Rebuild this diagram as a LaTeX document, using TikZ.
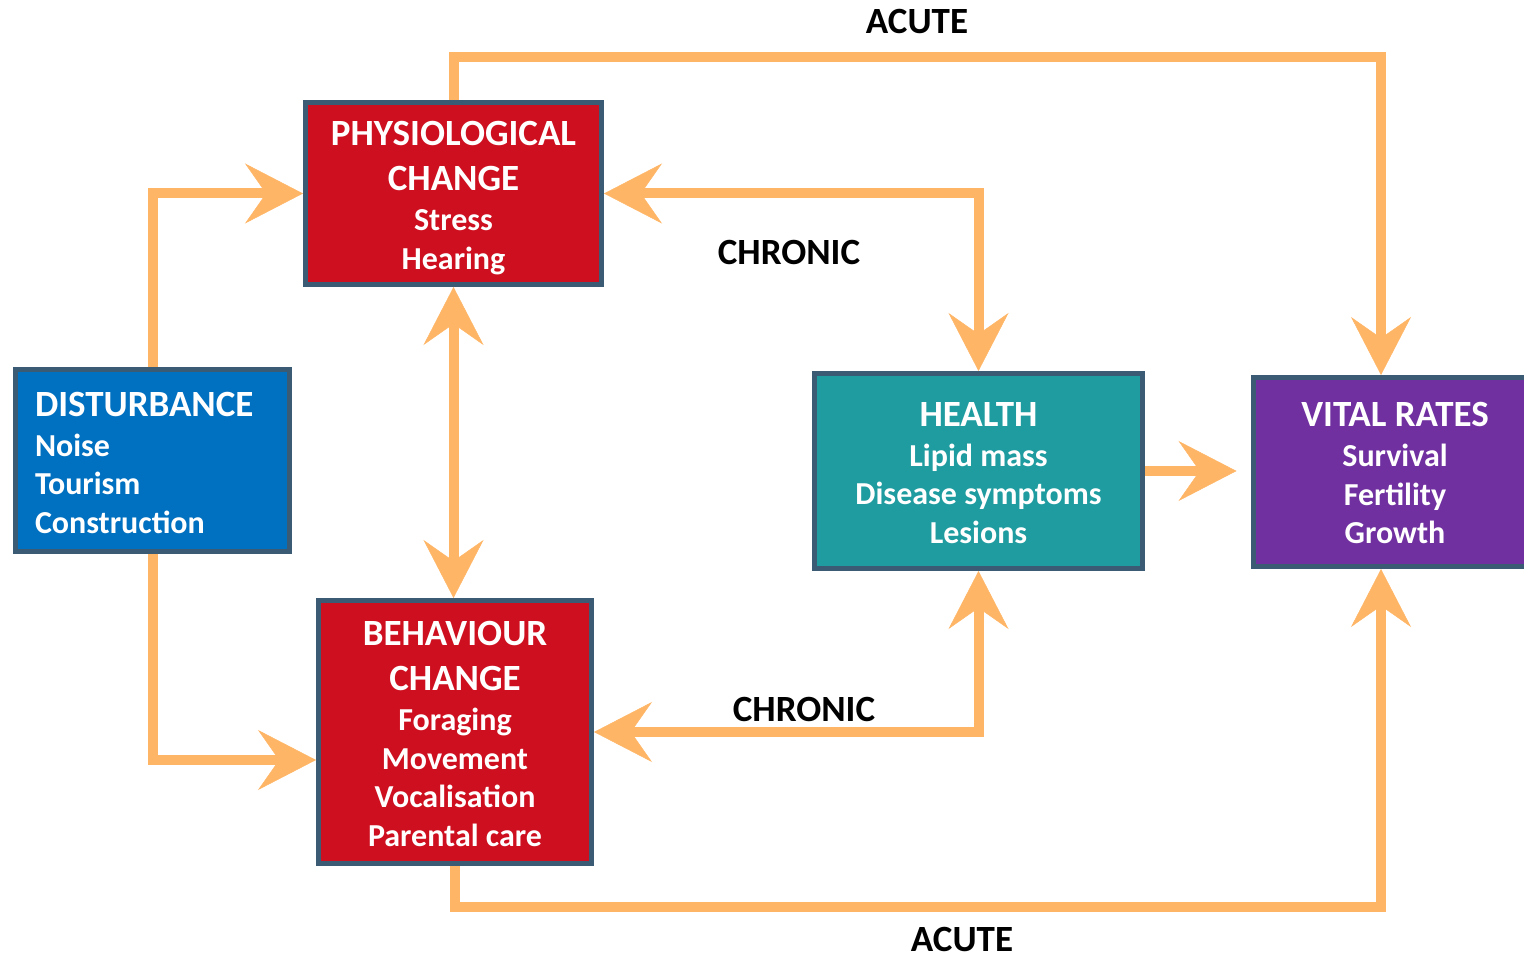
\documentclass[tikz,border=0pt]{standalone}
\usepackage{fontspec}
\setmainfont{Carlito}
\usetikzlibrary{arrows.meta,calc,shadows}
\definecolor{arr}{HTML}{FFB566}
\definecolor{bord}{HTML}{3B5B74}
\definecolor{physred}{HTML}{CE0F1F}
\definecolor{distblue}{HTML}{0070C0}
\definecolor{healthteal}{HTML}{1F9CA0}
\definecolor{vitalpurple}{HTML}{7030A0}
\newcommand{\ttl}{\fontsize{37}{45}\selectfont}
\newcommand{\itm}{\fontsize{32}{38.5}\selectfont}
\newcommand{\up}[1]{\rule{0pt}{#1pt}}
\tikzset{
  box/.style={draw=bord, line width=5pt, inner sep=0pt, text=white, align=center,
    font=\bfseries\itm, drop shadow={opacity=0.25, shadow xshift=2pt, shadow yshift=-2pt}},
  conn/.style={draw=arr, line width=10pt, line join=miter, line cap=butt},
  tip/.style={-{Stealth[length=58pt,width=60pt,inset=21pt,line width=0.5pt]}},
  tips/.style={{Stealth[length=58pt,width=60pt,inset=21pt,line width=0.5pt]}-{Stealth[length=58pt,width=60pt,inset=21pt,line width=0.5pt]}},
  lbl/.style={font=\bfseries\fontsize{37}{44}\selectfont, text=black, inner sep=0pt}
}
\begin{document}
\begin{tikzpicture}[x=1pt,y=-1pt]
\useasboundingbox (0,0) rectangle (1524,957);
\node[box, fill=physred, minimum width=296pt, minimum height=182pt] (phys) at (453.5,193.5)
  {{\ttl\up{33}PHYSIOLOGICAL}\\[6.5pt]{\ttl CHANGE}\\[1.5pt]Stress\\Hearing};
\node[box, fill=distblue, minimum width=274pt, minimum height=182pt, align=left, text width=235pt] (dist) at (152.5,460.5)
  {{\ttl\up{29}DISTURBANCE}\\[1.5pt]Noise\\Tourism\\Construction};
\node[box, fill=physred, minimum width=273pt, minimum height=263pt] (beh) at (455,732)
  {{\ttl\up{28}BEHAVIOUR}\\[6.5pt]{\ttl CHANGE}\\[1.5pt]Foraging\\Movement\\Vocalisation\\Parental care};
\node[box, fill=healthteal, minimum width=328pt, minimum height=195pt] (health) at (978.5,471)
  {{\ttl\up{28}HEALTH}\\[1.5pt]Lipid mass\\Disease symptoms\\Lesions};
\node[box, fill=vitalpurple, minimum width=284pt, minimum height=189pt] (vital) at (1395,472)
  {{\ttl\up{27}VITAL RATES}\\[1.5pt]Survival\\Fertility\\Growth};

\coordinate (ta) at (1381,57);
\coordinate (ba) at (1381,907);

\draw[conn,tip] (dist.north) |- (phys.west);
\draw[conn,tip] (dist.south) |- ($(beh.west)+(0,28)$);
\draw[conn,tips] (phys.south) -- (phys.south |- beh.north);
\draw[conn,tips] (phys.east) -| (health.north);
\draw[conn,tips] (beh.east) -| (health.south);
\draw[conn,tip,shorten >=14pt] (health.east) -- (health.east -| vital.west);
\draw[conn,tip] (phys.north) |- (ta) -- (ta |- vital.north);
\draw[conn,tip] (beh.south) |- (ba) -- (ba |- vital.south);

\node[lbl] (acute1) at (917,22) {ACUTE};
\node[lbl] (chronic1) at (789,252) {CHRONIC};
\node[lbl] (chronic2) at (804,709) {CHRONIC};
\node[lbl] (acute2) at (962,939) {ACUTE};
\end{tikzpicture}
\end{document}
